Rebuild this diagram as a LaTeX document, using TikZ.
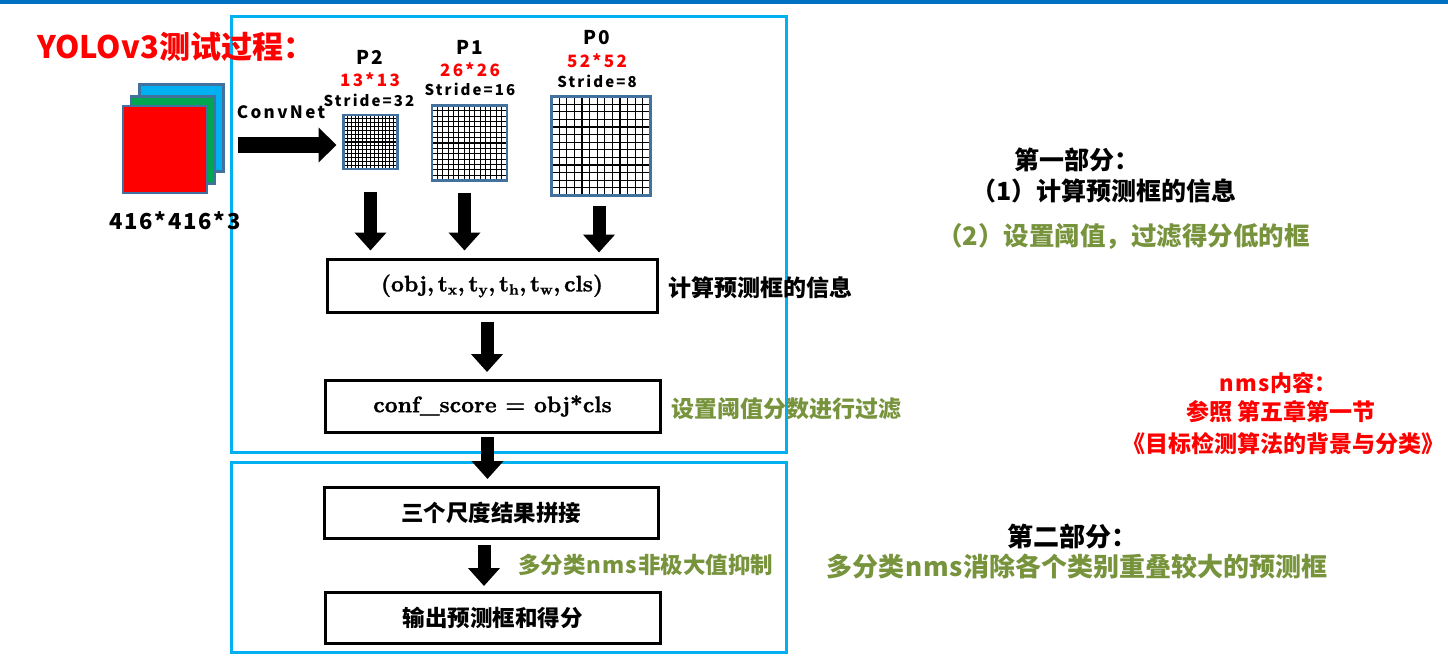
\documentclass[tikz,border=0pt]{standalone}
\usepackage{fontspec}
\usetikzlibrary{arrows.meta,calc}
\newfontfamily\cjk{Noto Sans CJK SC}
\newfontfamily\cjkls[LetterSpace=8]{Noto Sans CJK SC}
\newfontfamily\cjkwide[LetterSpace=14]{Noto Sans CJK SC}
\newfontfamily\lmheavy{lmroman10-bold.otf}[FakeBold=1.2]
\definecolor{frameblue}{HTML}{00B0F0}
\definecolor{barblue}{HTML}{0070C0}
\definecolor{olivegreen}{HTML}{77933C}
\definecolor{slate}{HTML}{41719C}
\definecolor{chblue}{HTML}{00B0F0}
\definecolor{chgreen}{HTML}{00A650}
\definecolor{chred}{HTML}{FF0000}
\newcommand{\sbx}[1]{\textsubscript{\fontsize{15}{15}\selectfont #1}}
\tikzset{
  frame/.style={draw=frameblue,line width=3pt,inner sep=0pt,outer sep=0pt},
  chan/.style={draw=slate,line width=2.5pt,minimum width=84pt,minimum height=87pt,inner sep=0pt},
  gridnode/.style={inner sep=0pt,outer sep=0pt},
  gridborder/.style={draw=slate,line width=2.5pt},
  gridline/.style={draw=black,line width=1.1pt},
  stepbox/.style={draw=black,line width=3pt,inner sep=0pt,outer sep=0pt,fill=white},
  fat/.style={line width=13pt,-{Triangle[length=18pt,width=31pt]}},
  fatright/.style={line width=16pt,-{Triangle[length=18pt,width=34pt]}},
  txt/.style={inner sep=0pt,font=\cjk\bfseries\fontsize{#1}{#1}\selectfont},
  txt/.default=22,
  lstxt/.style={inner sep=0pt,font=\cjkls\bfseries\fontsize{#1}{#1}\selectfont},
  widetxt/.style={inner sep=0pt,font=\cjkwide\bfseries\fontsize{#1}{#1}\selectfont},
  serif/.style={font=\lmheavy\fontsize{22.5}{26}\selectfont},
}
\begin{document}
\begin{tikzpicture}[x=1pt,y=-1pt]
\useasboundingbox (0,0) rectangle (1448,667);
\fill[barblue] (0,0) rectangle (1448,4);

% frames
\node[frame,minimum width=555pt,minimum height=436pt] (f1) at (508.5,234) {};
\node[frame,minimum width=555pt,minimum height=190pt] (f2) at (508.5,557.5) {};

% title
\node[txt=31,text=chred,anchor=west] (title) at (37,47) {YOLOv3测试过程：};

% input image
\node[chan,fill=chblue] (cb) at (181.5,128) {};
\node[chan,fill=chgreen] (cg) at (173,140) {};
\node[chan,fill=chred] (cr) at (165,149.5) {};
\node[lstxt=22] (insize) at (175,221) {416*416*3};

% ConvNet
\node[widetxt=17] (convnet) at (281,112) {ConvNet};

% grids
\node[gridnode,minimum size=54pt] (p2) at (370.5,142) {};
\node[gridnode,minimum size=75pt] (p1) at (469.5,143) {};
\node[gridnode,minimum size=99pt] (p0) at (601,146) {};
\foreach \g/\s/\n/\m in {p2/54/14/13,p1/75/14/13,p0/99/13/12}{
  \foreach \i in {1,...,\m}{
    \draw[gridline] ([xshift={\i*\s pt/\n}]\g.north west) -- ([xshift={\i*\s pt/\n}]\g.south west);
    \draw[gridline] ([yshift={-\i*\s pt/\n}]\g.north west) -- ([yshift={-\i*\s pt/\n}]\g.north east);
  }
  \draw[gridborder] (\g.north west) rectangle (\g.south east);
}

% labels above grids
\node[lstxt=19] (lp2) at (370,57) {P2};
\node[widetxt=17,text=chred] (sp2) at (370,80) {13*13};
\node[widetxt=15] (st2) at (369,100) {Stride=32};
\node[lstxt=19] (lp1) at (470,47) {P1};
\node[widetxt=17,text=chred] (sp1) at (470,70) {26*26};
\node[widetxt=15] (st1) at (470,89) {Stride=16};
\node[lstxt=19] (lp0) at (597,38) {P0};
\node[widetxt=17,text=chred] (sp0) at (597,61) {52*52};
\node[widetxt=15] (st0) at (597,81) {Stride=8};

% boxes
\node[stepbox,serif,minimum width=330pt,minimum height=53pt] (b1) at (492,286) {(obj,\,t\sbx{x},\,t\sbx{y},\,t\sbx{h},\,t\sbx{w},\,cls)};
\node[stepbox,serif,minimum width=335pt,minimum height=52pt] (b2) at (492.5,406) {conf\_score = obj*cls};
\node[stepbox,minimum width=334pt,minimum height=51pt,txt=22.5] (b3) at (491,512.5) {三个尺度结果拼接};
\node[stepbox,minimum width=335pt,minimum height=51pt,txt=22.5] (b4) at (492.5,617.5) {输出预测框和得分};

% arrows
\coordinate (cs) at (238,145);
\draw[fatright,shorten >=7pt] (cs) -- (cs -| p2.west);
\draw[fat,shorten <=23pt,shorten >=9pt] (p2.south) -- (p2.south |- b1.north);
\draw[fat,shorten <=12pt,shorten >=9pt] ([xshift=-5pt]p1.south) -- ([xshift=-5pt]p1.south |- b1.north);
\draw[fat,shorten <=10pt,shorten >=7pt] ([xshift=-2pt]p0.south) -- ([xshift=-2pt]p0.south |- b1.north);
\draw[fat,shorten <=9pt,shorten >=8pt] ([xshift=-5pt]b1.south) -- ([xshift=-5pt]b1.south |- b2.north);
\draw[fat,shorten <=5pt,shorten >=8pt] ([xshift=-5pt]b2.south) -- ([xshift=-5pt]b2.south |- b3.north);
\draw[fat,shorten <=7pt,shorten >=6pt] ([xshift=-7pt]b3.south) -- ([xshift=-7pt]b3.south |- b4.north);

% side labels
\node[txt=23,anchor=west] (l1) at (668,288) {计算预测框的信息};
\node[txt=23,anchor=west,text=olivegreen] (l2) at (671,409) {设置阈值分数进行过滤};
\node[txt=22.5,anchor=west,text=olivegreen] (l3) at (518,565) {多分类\hspace{1pt}n\hspace{1pt}m\hspace{1pt}s\hspace{1pt}非极大值抑制};

% right side text
\node[txt=25,anchor=west] (r1) at (1014,160) {第一部分：};
\node[txt=25,anchor=west] (r2) at (971,191) {（1）计算预测框的信息};
\node[txt=25.5,anchor=west,text=olivegreen] (r3) at (937,236) {（2）设置阈值，过滤得分低的框};
\node[txt=22,text=chred] (n1) at (1278,383) {n\hspace{1.5pt}m\hspace{1.5pt}s内容：};
\node[txt=23,text=chred] (n2) at (1281,412) {参照 第五章第一节};
\node[txt=23,text=chred] (n3) at (1283,444) {《目标检测算法的背景与分类》};
\node[txt=26] (r4) at (1072,537) {第二部分：};
\node[txt=26,text=olivegreen] (r5) at (1077,567) {多分类\hspace{1pt}n\hspace{1pt}m\hspace{1pt}s\hspace{1pt}消除各个类别重叠较大的预测框};
\end{tikzpicture}
\end{document}
